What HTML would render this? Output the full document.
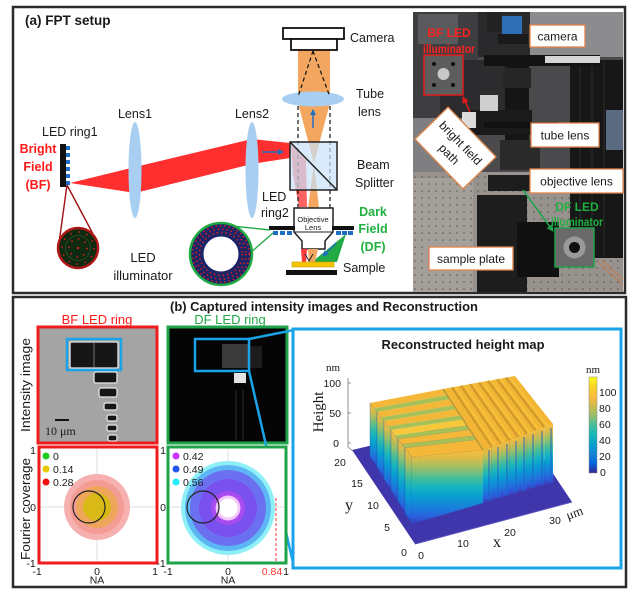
<!DOCTYPE html>
<html><head><meta charset="utf-8">
<style>
html,body{margin:0;padding:0;background:#fff;}
svg{display:block;}
text{font-family:"Liberation Sans",sans-serif;fill:#1a1a1a;}
.sf{font-family:"Liberation Serif",serif;}
</style></head><body>
<svg width="636" height="594" viewBox="0 0 636 594" xmlns="http://www.w3.org/2000/svg">
<defs>
<linearGradient id="gv" x1="0" y1="0" x2="0" y2="1">
 <stop offset="0" stop-color="#fbbd3c"/>
 <stop offset="0.12" stop-color="#d9bb48"/>
 <stop offset="0.25" stop-color="#96bf6b"/>
 <stop offset="0.38" stop-color="#45bd98"/>
 <stop offset="0.5" stop-color="#18b4c0"/>
 <stop offset="0.63" stop-color="#089ed2"/>
 <stop offset="0.76" stop-color="#1683da"/>
 <stop offset="0.9" stop-color="#2a60de"/>
 <stop offset="1" stop-color="#3c3cbc"/>
</linearGradient>
<linearGradient id="cb" x1="0" y1="0" x2="0" y2="1">
 <stop offset="0" stop-color="#f9fb15"/>
 <stop offset="0.1" stop-color="#f8d628"/>
 <stop offset="0.2" stop-color="#fcbc3d"/>
 <stop offset="0.3" stop-color="#d1ba4d"/>
 <stop offset="0.4" stop-color="#96bf6b"/>
 <stop offset="0.5" stop-color="#45bd9a"/>
 <stop offset="0.6" stop-color="#18b8b8"/>
 <stop offset="0.7" stop-color="#06a0cd"/>
 <stop offset="0.8" stop-color="#1485d4"/>
 <stop offset="0.9" stop-color="#0363e1"/>
 <stop offset="1" stop-color="#352a87"/>
</linearGradient>
<pattern id="dots" width="7" height="7" patternUnits="userSpaceOnUse"><circle cx="2" cy="2" r="0.8" fill="#5a5652"/></pattern>
<clipPath id="pc"><rect x="413" y="12" width="210" height="280"/></clipPath>
<marker id="mb" markerWidth="6" markerHeight="6" refX="5" refY="3" orient="auto" markerUnits="userSpaceOnUse"><path d="M0,0 L6,3 L0,6 z" fill="#1f6fc0"/></marker>
<marker id="mr" markerWidth="7" markerHeight="7" refX="6" refY="3.5" orient="auto" markerUnits="userSpaceOnUse"><path d="M0,0 L7,3.5 L0,7 z" fill="#e01b1b"/></marker>
<marker id="mg" markerWidth="7" markerHeight="7" refX="6" refY="3.5" orient="auto" markerUnits="userSpaceOnUse"><path d="M0,0 L7,3.5 L0,7 z" fill="#1fa34a"/></marker>
</defs>

<!-- ============ PANEL A ============ -->
<rect x="13" y="7" width="612" height="286" fill="#fff" stroke="#2b2b2b" stroke-width="2.5"/>
<text x="25" y="25" font-size="13.5" font-weight="bold">(a) FPT setup</text>

<polygon points="70,183 135,167 252,139 290,143 290,158 252,164 135,193" fill="#ff2f2f"/>
<polygon points="291,144 306,160 307,207 299,207 293,175" fill="#ff3b3b" opacity="0.8"/>
<rect x="298" y="50" width="32" height="48" fill="#f3a660"/>
<polygon points="298,103 330,103 314,163" fill="#f3a660"/>
<polygon points="314,163 319,208 308,208" fill="#f3a660"/>
<ellipse cx="135" cy="170" rx="6.5" ry="48" fill="#a8cff2"/>
<ellipse cx="252" cy="170" rx="6.5" ry="48" fill="#a8cff2"/>
<ellipse cx="313" cy="99" rx="31" ry="7.5" fill="#a8cff2"/>
<g stroke="#111" stroke-width="1.2" stroke-dasharray="4 3" fill="none">
<line x1="313" y1="51" x2="298" y2="97"/><line x1="313" y1="51" x2="330" y2="97"/>
<line x1="298" y1="106" x2="298" y2="208"/><line x1="330" y1="106" x2="330" y2="208"/>
</g>
<rect x="290" y="142" width="47" height="48" fill="#c9e2f8" fill-opacity="0.7" stroke="#222" stroke-width="1.5"/>
<line x1="290" y1="142" x2="337" y2="190" stroke="#222" stroke-width="1.5"/>
<line x1="262" y1="152" x2="283" y2="152" stroke="#1f6fc0" stroke-width="1.5" marker-end="url(#mb)"/>
<line x1="313" y1="128" x2="313" y2="110" stroke="#1f6fc0" stroke-width="1.5" marker-end="url(#mb)"/>
<rect x="283" y="28" width="61" height="11" fill="#fff" stroke="#111" stroke-width="1.8"/>
<rect x="291" y="39" width="46" height="11" fill="#fff" stroke="#111" stroke-width="1.8"/>
<polygon points="294,208 333,208 333,232 325,241 325,249 302,249 302,241 294,232" fill="#fff" stroke="#222" stroke-width="1.5"/>
<line x1="294" y1="232" x2="333" y2="232" stroke="#222" stroke-width="1"/>
<text x="313" y="222" font-size="7.5" text-anchor="middle">Objective</text>
<text x="313" y="230" font-size="7.5" text-anchor="middle">Lens</text>
<rect x="269" y="226" width="26" height="4" fill="#111"/>
<rect x="273" y="231" width="5" height="4" fill="#1e6fc4"/><rect x="280" y="231" width="5" height="4" fill="#1e6fc4"/><rect x="287" y="231" width="5" height="4" fill="#1e6fc4"/>
<rect x="332" y="226" width="22" height="4" fill="#111"/>
<rect x="336" y="231" width="5" height="4" fill="#1e6fc4"/><rect x="342" y="231" width="5" height="4" fill="#1e6fc4"/><rect x="348" y="231" width="5" height="4" fill="#1e6fc4"/>
<polygon points="346,234 337,262 312,262" fill="#22aa44"/>
<line x1="336" y1="243" x2="323" y2="256" stroke="#1f6fc0" stroke-width="1.5" marker-end="url(#mb)"/>
<polygon points="301,249 307,249 306,262 302,262" fill="#ff3b3b"/>
<polygon points="308,249 318,249 315,262 309,262" fill="#f3a660"/>
<path d="M305,254 L309,261 L313,254" stroke="#222" stroke-width="1" fill="none"/>
<rect x="292" y="262" width="42" height="5" fill="#f5c400" stroke="#c9a000" stroke-width="0.6"/>
<rect x="286" y="270" width="51" height="5" fill="#111"/>
<rect x="60" y="144" width="6" height="43" fill="#111"/>
<g fill="#1e6fc4"><rect x="66" y="146" width="4" height="4"/><rect x="66" y="153" width="4" height="4"/><rect x="66" y="160" width="4" height="4"/><rect x="66" y="167" width="4" height="4"/><rect x="66" y="174" width="4" height="4"/><rect x="66" y="181" width="4" height="4"/></g>
<line x1="67" y1="185" x2="59" y2="243" stroke="#a01010" stroke-width="1.4"/>
<line x1="67" y1="185" x2="93" y2="234" stroke="#a01010" stroke-width="1.4"/>
<circle cx="78" cy="248" r="20" fill="#0f2a10" stroke="#b01818" stroke-width="2.5"/>
<circle cx="78" cy="248" r="9" fill="none" stroke="#e02020" stroke-width="1.6" stroke-dasharray="1.4 5.6"/>
<circle cx="78" cy="248" r="16" fill="none" stroke="#e02020" stroke-width="1.6" stroke-dasharray="1.4 7"/>
<circle cx="78" cy="248" r="12.5" fill="none" stroke="#3a5a3a" stroke-width="0.6"/>
<circle cx="78" cy="248" r="1.2" fill="#e02020"/>
<line x1="270" y1="230" x2="213" y2="224" stroke="#22aa44" stroke-width="1.4"/>
<line x1="273" y1="233" x2="249" y2="254" stroke="#22aa44" stroke-width="1.4"/>
<circle cx="221" cy="254" r="31" fill="#1b2466" stroke="#22aa44" stroke-width="2.5"/>
<circle cx="221" cy="254" r="18" fill="#fff" stroke="#1b2466" stroke-width="1"/>
<circle cx="221" cy="254" r="21.5" fill="none" stroke="#e02020" stroke-width="1.6" stroke-dasharray="1.4 3"/>
<circle cx="221" cy="254" r="25" fill="none" stroke="#e02020" stroke-width="1.6" stroke-dasharray="1.4 3"/>
<circle cx="221" cy="254" r="28.3" fill="none" stroke="#e02020" stroke-width="1.6" stroke-dasharray="1.4 3"/>
<text x="42" y="136" font-size="12.5">LED ring1</text>
<text x="38" y="153" font-size="12.5" font-weight="bold" text-anchor="middle" style="fill:#ff1a1a">Bright</text>
<text x="38" y="171" font-size="12.5" font-weight="bold" text-anchor="middle" style="fill:#ff1a1a">Field</text>
<text x="38" y="189" font-size="12.5" font-weight="bold" text-anchor="middle" style="fill:#ff1a1a">(BF)</text>
<text x="135" y="118" font-size="12.5" text-anchor="middle">Lens1</text>
<text x="252" y="118" font-size="12.5" text-anchor="middle">Lens2</text>
<text x="143" y="262" font-size="13" text-anchor="middle">LED</text>
<text x="143" y="280" font-size="13" text-anchor="middle">illuminator</text>
<text x="262" y="201" font-size="12.5">LED</text>
<text x="261" y="217" font-size="12.5">ring2</text>
<text x="350" y="42" font-size="12.5">Camera</text>
<text x="356" y="98" font-size="12.5">Tube</text>
<text x="358" y="116" font-size="12.5">lens</text>
<text x="357" y="169" font-size="12.5">Beam</text>
<text x="355" y="187" font-size="12.5">Splitter</text>
<text x="373" y="216" font-size="12.5" font-weight="bold" text-anchor="middle" style="fill:#1fb040">Dark</text>
<text x="373" y="233" font-size="12.5" font-weight="bold" text-anchor="middle" style="fill:#1fb040">Field</text>
<text x="373" y="251" font-size="12.5" font-weight="bold" text-anchor="middle" style="fill:#1fb040">(DF)</text>
<text x="343" y="272" font-size="12.5">Sample</text>

<!-- photo -->
<g clip-path="url(#pc)">
<rect x="413" y="12" width="210" height="280" fill="#4a4a4c"/>
<rect x="413" y="12" width="65" height="110" fill="#3e3e40"/>
<rect x="418" y="14" width="40" height="30" fill="#5a5a5c"/>
<rect x="530" y="12" width="93" height="45" fill="#8c8c8e"/>
<rect x="478" y="12" width="52" height="45" fill="#2a2a2c"/>
<rect x="413" y="118" width="52" height="60" fill="#7f7f81"/>
<rect x="440" y="60" width="65" height="58" fill="#2c2c2e"/>
<rect x="413" y="172" width="210" height="120" fill="#97928d"/>
<rect x="413" y="178" width="60" height="114" fill="#aaa5a0" opacity="0.7"/>
<rect x="413" y="172" width="210" height="120" fill="url(#dots)"/>
<rect x="570" y="60" width="53" height="198" fill="#171717"/>
<g stroke="#2c2c2c" stroke-width="1"><line x1="580" y1="62" x2="580" y2="256"/><line x1="592" y1="62" x2="592" y2="256"/><line x1="604" y1="62" x2="604" y2="256"/></g>
<rect x="606" y="110" width="17" height="40" fill="#5a6a80"/>
<rect x="484" y="55" width="116" height="11" fill="#131313"/>
<rect x="545" y="56" width="55" height="7" fill="#d6d6d6"/>
<rect x="502" y="16" width="20" height="20" fill="#2f6eb2"/>
<rect x="498" y="34" width="30" height="10" fill="#1a1a1a"/>
<rect x="487" y="12" width="14" height="20" fill="#222"/>
<rect x="505" y="66" width="24" height="90" fill="#151515"/>
<rect x="503" y="68" width="28" height="20" fill="#262626"/>
<rect x="470" y="110" width="62" height="25" fill="#1a1a1a"/>
<rect x="462" y="112" width="14" height="16" fill="#dcdcdc"/>
<rect x="480" y="95" width="18" height="16" fill="#cfcfcf"/>
<rect x="484" y="122" width="74" height="6" fill="#111"/>
<rect x="500" y="140" width="40" height="30" fill="#2a2a2a"/>
<rect x="488" y="175" width="47" height="16" fill="#1d1d1d"/>
<rect x="477" y="195" width="50" height="97" fill="#1d1d1d"/>
<rect x="517" y="222" width="42" height="55" fill="#101010"/>
<line x1="598" y1="262" x2="623" y2="285" stroke="#c87a4a" stroke-width="1"/>
<line x1="602" y1="260" x2="623" y2="280" stroke="#c87a4a" stroke-width="1"/>
</g>
<rect x="530" y="25" width="55" height="22" fill="#fff" stroke="#e0834a" stroke-width="1.3"/>
<text x="557.5" y="40.5" font-size="12" text-anchor="middle">camera</text>
<rect x="531" y="123" width="68" height="24" fill="#fff" stroke="#e0834a" stroke-width="1.3"/>
<text x="565" y="139.5" font-size="12" text-anchor="middle">tube lens</text>
<rect x="530" y="169" width="93" height="24" fill="#fff" stroke="#e0834a" stroke-width="1.3"/>
<text x="576.5" y="185.5" font-size="12" text-anchor="middle">objective lens</text>
<rect x="429" y="247" width="84" height="23" fill="#fff" stroke="#e0834a" stroke-width="1.3"/>
<text x="471" y="263" font-size="12" text-anchor="middle">sample plate</text>
<g transform="translate(455.5,148) rotate(46)">
<rect x="-34.5" y="-23" width="69" height="46" fill="#fff" stroke="#e0834a" stroke-width="1.3"/>
<text x="0" y="-3" font-size="12" text-anchor="middle">bright field</text>
<text x="0" y="13" font-size="12" text-anchor="middle">path</text>
</g>
<text x="449" y="37" font-size="12" font-weight="bold" text-anchor="middle" style="fill:#ff2020">BF LED</text>
<text x="449" y="53" font-size="12" font-weight="bold" text-anchor="middle" textLength="52" lengthAdjust="spacingAndGlyphs" style="fill:#ff2020">illuminator</text>
<rect x="424" y="55" width="39" height="40" fill="#5d5d5d" stroke="#e01b1b" stroke-width="1.5"/>
<circle cx="443.5" cy="74" r="6" fill="#c8c8c8"/>
<g fill="#111"><circle cx="434" cy="64" r="2"/><circle cx="453" cy="64" r="2"/><circle cx="434" cy="85" r="2"/><circle cx="453" cy="85" r="2"/></g>
<line x1="470" y1="112" x2="463" y2="97" stroke="#e01b1b" stroke-width="1.5" marker-end="url(#mr)"/>
<text x="577" y="211" font-size="12" font-weight="bold" text-anchor="middle" style="fill:#1fb040">DF LED</text>
<text x="577" y="226" font-size="12" font-weight="bold" text-anchor="middle" textLength="52" lengthAdjust="spacingAndGlyphs" style="fill:#1fb040">illuminator</text>
<rect x="555" y="228" width="39" height="39" fill="#6a6a6a" stroke="#21a04a" stroke-width="1.5"/>
<circle cx="574.5" cy="247.5" r="11" fill="#9a9a9a"/>
<circle cx="574.5" cy="247.5" r="5.5" fill="#111"/>
<line x1="523" y1="190" x2="553" y2="231" stroke="#1fa34a" stroke-width="1.5" marker-end="url(#mg)"/>

<!-- ============ PANEL B ============ -->
<rect x="13" y="297" width="613" height="290" fill="#fff" stroke="#2b2b2b" stroke-width="2.5"/>
<text x="170" y="311" font-size="12.5" font-weight="bold" textLength="308" lengthAdjust="spacingAndGlyphs">(b) Captured intensity images and Reconstruction</text>
<text x="97" y="324" font-size="13" text-anchor="middle" style="fill:#ff1a1a">BF LED ring</text>
<text x="230" y="324" font-size="13" text-anchor="middle" style="fill:#20a848">DF LED ring</text>
<text transform="translate(30,385) rotate(-90)" font-size="13" text-anchor="middle" textLength="94" lengthAdjust="spacingAndGlyphs">Intensity image</text>
<text transform="translate(30,509) rotate(-90)" font-size="13" text-anchor="middle" textLength="102" lengthAdjust="spacingAndGlyphs">Fourier coverage</text>

<rect x="38" y="327" width="119" height="116" fill="#a4a4a4" stroke="#ee1c1c" stroke-width="3"/>
<g fill="#161616" stroke="#e8e8e8" stroke-width="1.3">
<rect x="70" y="342" width="48" height="26" rx="1.5"/>
<rect x="94" y="372" width="23" height="11" rx="2"/>
<rect x="99" y="388" width="18" height="9" rx="2"/>
<rect x="104" y="403" width="13" height="7" rx="2"/>
<rect x="107" y="415" width="10" height="6" rx="2"/>
<rect x="107" y="425" width="10" height="6" rx="2"/>
<rect x="108" y="435" width="9" height="6" rx="2"/>
</g>
<line x1="94" y1="343" x2="94" y2="367" stroke="#777" stroke-width="1"/>
<rect x="67" y="339" width="54" height="31" fill="none" stroke="#1aa3e8" stroke-width="2.5"/>
<line x1="55" y1="420" x2="69" y2="420" stroke="#111" stroke-width="2"/>
<text x="45" y="435" font-size="12" class="sf">10 μm</text>

<rect x="168" y="327" width="119" height="116" fill="#050505" stroke="#1fa34a" stroke-width="3"/>
<rect x="222" y="344" width="26" height="24" fill="#3a3a3a"/>
<rect x="248" y="346" width="14" height="22" fill="#1c1c1c"/>
<rect x="234" y="373" width="12" height="10" fill="#e4e4e4"/>
<g stroke="#2a2a2a" stroke-width="1"><line x1="236" y1="390" x2="236" y2="440"/><line x1="243" y1="390" x2="243" y2="440"/></g>
<rect x="195" y="339" width="54" height="32" fill="none" stroke="#1aa3e8" stroke-width="2.5"/>

<line x1="249" y1="339" x2="294" y2="330" stroke="#1aa3e8" stroke-width="2.5"/>
<line x1="249" y1="371" x2="294" y2="567" stroke="#1aa3e8" stroke-width="2.5"/>
<rect x="293" y="329" width="328" height="239" fill="#fff" stroke="#1aa3e8" stroke-width="3"/>

<rect x="39" y="447" width="118" height="116" fill="#fff" stroke="#ee1c1c" stroke-width="3"/>
<line x1="97" y1="449" x2="97" y2="561" stroke="#dcdcdc" stroke-width="1"/>
<line x1="41" y1="507" x2="155" y2="507" stroke="#dcdcdc" stroke-width="1"/>
<circle cx="97" cy="507" r="33" fill="#f6b0b0"/>
<circle cx="97" cy="507" r="27" fill="#f39c94"/>
<circle cx="97" cy="507" r="21" fill="#eea65a"/>
<circle cx="97" cy="507" r="14" fill="#d8b916"/>
<circle cx="89" cy="507" r="16" fill="none" stroke="#222" stroke-width="1.2"/>
<circle cx="46" cy="456" r="3.5" fill="#22cc22"/>
<circle cx="46" cy="469" r="3.5" fill="#e6c800"/>
<circle cx="46" cy="482" r="3.5" fill="#ee1111"/>
<text x="53" y="460" font-size="10.5">0</text>
<text x="53" y="473" font-size="10.5">0.14</text>
<text x="53" y="486" font-size="10.5">0.28</text>
<g font-size="10.5" text-anchor="middle">
<text x="33" y="454">1</text><text x="33" y="511">0</text><text x="31" y="567">-1</text>
<text x="37" y="575">-1</text><text x="97" y="575">0</text><text x="155" y="575">1</text>
<text x="97" y="583.5">NA</text>
<text x="163" y="454">1</text><text x="163" y="511">0</text><text x="161" y="567">-1</text>
<text x="168" y="575">-1</text><text x="228" y="575">0</text><text x="286" y="575">1</text>
<text x="228" y="583.5">NA</text>
<text x="272" y="575" style="fill:#ff3030">0.84</text>
</g>

<rect x="168" y="447" width="118" height="116" fill="#fff" stroke="#1fa34a" stroke-width="3"/>
<line x1="228" y1="449" x2="228" y2="561" stroke="#dcdcdc" stroke-width="1"/>
<line x1="170" y1="507" x2="284" y2="507" stroke="#dcdcdc" stroke-width="1"/>
<circle cx="228" cy="508" r="47" fill="#8ef0f6"/>
<circle cx="228" cy="508" r="43" fill="#5cb6f3"/>
<circle cx="228" cy="508" r="38" fill="#6a70f0"/>
<circle cx="228" cy="508" r="29" fill="#7a50ee"/>
<circle cx="228" cy="508" r="17" fill="#a84cf0"/>
<circle cx="228" cy="508" r="12.5" fill="#f2c8fa"/>
<circle cx="228" cy="508" r="9.5" fill="#fff"/>
<circle cx="203" cy="507" r="16" fill="none" stroke="#222" stroke-width="1.2"/>
<line x1="276" y1="498" x2="276" y2="563" stroke="#ff5555" stroke-width="1.2" stroke-dasharray="3 2"/>
<circle cx="176" cy="456" r="3.5" fill="#cc33ff"/>
<circle cx="176" cy="469" r="3.5" fill="#2255ee"/>
<circle cx="176" cy="482" r="3.5" fill="#22eeff"/>
<text x="183" y="460" font-size="10.5">0.42</text>
<text x="183" y="473" font-size="10.5">0.49</text>
<text x="183" y="486" font-size="10.5">0.56</text>

<!-- 3D plot -->
<text x="463" y="349" font-size="12.5" font-weight="bold" text-anchor="middle" textLength="163" lengthAdjust="spacingAndGlyphs">Reconstructed height map</text>
<polygon points="352,450 369,446 510,409 572,502 415,544" fill="#4036ac"/>
<line x1="415" y1="544" x2="572" y2="502" stroke="#5a50c0" stroke-width="1"/>
<g fill="url(#gv)" stroke="#1e4fb0" stroke-width="0.6" stroke-opacity="0.5">
<polygon points="370,403 377,412 377,467 370,456"/>
<polygon points="377,412 384,421 384,479 377,467"/>
<polygon points="384,421 391,430 391,490 384,479"/>
<polygon points="391,430 398,439 398,501 391,490"/>
<polygon points="398,439 405,448 405,513 398,501"/>
<polygon points="405,448 412,457 412,524 405,513"/>
</g>
<polygon points="412,457 483,450 483,503 412,524" fill="url(#gv)"/>
<g fill="url(#gv)">
<polygon points="483,450 491.75,446.75 491.75,500.4 483,503"/>
<polygon points="491.75,446.75 500.5,443.5 500.5,497.75 491.75,500.4"/>
<polygon points="500.5,443.5 509.25,440.25 509.25,495.1 500.5,497.75"/>
<polygon points="509.25,440.25 518,437 518,492.5 509.25,495.1"/>
<polygon points="518,437 526.75,433.75 526.75,489.9 518,492.5"/>
<polygon points="526.75,433.75 535.5,430.5 535.5,487.25 526.75,489.9"/>
<polygon points="535.5,430.5 544.25,427.25 544.25,484.6 535.5,487.25"/>
<polygon points="544.25,427.25 553,424 553,482 544.25,484.6"/>
</g>
<g stroke="#1f5dc8" stroke-width="2" stroke-opacity="0.45">
<line x1="489" y1="450" x2="489" y2="501"/><line x1="498" y1="447" x2="498" y2="498"/>
<line x1="507" y1="444" x2="507" y2="496"/><line x1="516" y1="441" x2="516" y2="493"/>
<line x1="524" y1="437" x2="524" y2="491"/><line x1="533" y1="434" x2="533" y2="488"/>
<line x1="542" y1="431" x2="542" y2="485"/><line x1="551" y1="428" x2="551" y2="483"/>
</g>
<polygon points="443,389 515,376 553,424 483,450" fill="#f3b534"/>
<g stroke="#cf9a2c" stroke-width="2.2">
<line x1="452" y1="387.4" x2="491.75" y2="446.75"/>
<line x1="461" y1="385.75" x2="500.5" y2="443.5"/>
<line x1="470" y1="384.1" x2="509.25" y2="440.25"/>
<line x1="479" y1="382.5" x2="518" y2="437"/>
<line x1="488" y1="380.9" x2="526.75" y2="433.75"/>
<line x1="497" y1="379.25" x2="535.5" y2="430.5"/>
<line x1="506" y1="377.6" x2="544.25" y2="427.25"/>
</g>
<g stroke="#f9c63e" stroke-width="1.2">
<line x1="455.5" y1="387" x2="495" y2="446"/>
<line x1="464.5" y1="385.3" x2="503.8" y2="442.5"/>
<line x1="473.5" y1="383.6" x2="512.5" y2="439.2"/>
<line x1="482.5" y1="382" x2="521.3" y2="436"/>
<line x1="491.5" y1="380.4" x2="530" y2="432.7"/>
<line x1="500.5" y1="378.7" x2="538.8" y2="429.5"/>
<line x1="509.5" y1="377" x2="547.5" y2="426.3"/>
</g>
<g fill="#f4b737">
<polygon points="370,403 443,389 447,395.1 374.2,408.4"/>
<polygon points="377,412 449.7,399.2 453.7,405.3 381.2,417.4"/>
<polygon points="384,421 456.3,409.3 460.3,415.4 388.2,426.4"/>
<polygon points="391,430 463,419.5 467,425.6 395.2,435.4" fill="#f6c83a"/>
<polygon points="398,439 469.7,429.7 473.7,435.8 402.2,444.4"/>
<polygon points="405,448 476.3,439.8 483,450 412,457"/>
</g>
<g fill="#a8c058">
<polygon points="374.2,408.4 447,395.1 449.7,399.2 377,412"/>
<polygon points="381.2,417.4 453.7,405.3 456.3,409.3 384,421"/>
<polygon points="388.2,426.4 460.3,415.4 463,419.5 391,430"/>
<polygon points="395.2,435.4 467,425.6 469.7,429.7 398,439"/>
<polygon points="402.2,444.4 473.7,435.8 476.3,439.8 405,448"/>
</g>
<line x1="443" y1="389" x2="483" y2="450" stroke="#b89a3a" stroke-width="1.5"/>
<g stroke="#777" stroke-width="0.8">
<line x1="348" y1="378" x2="348" y2="447"/><line x1="348" y1="447" x2="353" y2="451"/>
<line x1="348" y1="383" x2="351" y2="383"/><line x1="348" y1="413" x2="351" y2="413"/><line x1="348" y1="443" x2="351" y2="443"/>
</g>
<text x="333" y="371" font-size="11" text-anchor="middle" class="sf">nm</text>
<g font-size="10.5" text-anchor="end">
<text x="341" y="387">100</text><text x="341" y="417">50</text><text x="339" y="447">0</text>
</g>
<text transform="translate(323,412) rotate(-90)" font-size="15" text-anchor="middle" class="sf">Height</text>
<g font-size="10.5" text-anchor="middle">
<text x="340" y="466">20</text><text x="357" y="487">15</text><text x="373" y="509">10</text>
<text x="387" y="531">5</text><text x="404" y="556">0</text>
<text x="421" y="559">0</text><text x="463" y="547">10</text><text x="510" y="536">20</text><text x="555" y="524">30</text>
</g>
<text x="349" y="510" font-size="16" text-anchor="middle" class="sf">y</text>
<text x="497" y="547" font-size="16" text-anchor="middle" class="sf">x</text>
<text transform="translate(576,517) rotate(-20)" font-size="13" text-anchor="middle" class="sf">μm</text>
<rect x="589" y="377" width="8" height="96" fill="url(#cb)" stroke="#888" stroke-width="0.5"/>
<text x="593" y="373" font-size="11" text-anchor="middle" class="sf">nm</text>
<g font-size="10.5">
<text x="599" y="396">100</text><text x="599" y="412">80</text><text x="599" y="428">60</text>
<text x="599" y="444">40</text><text x="599" y="460">20</text><text x="600" y="476">0</text>
</g>
</svg>
</body></html>
